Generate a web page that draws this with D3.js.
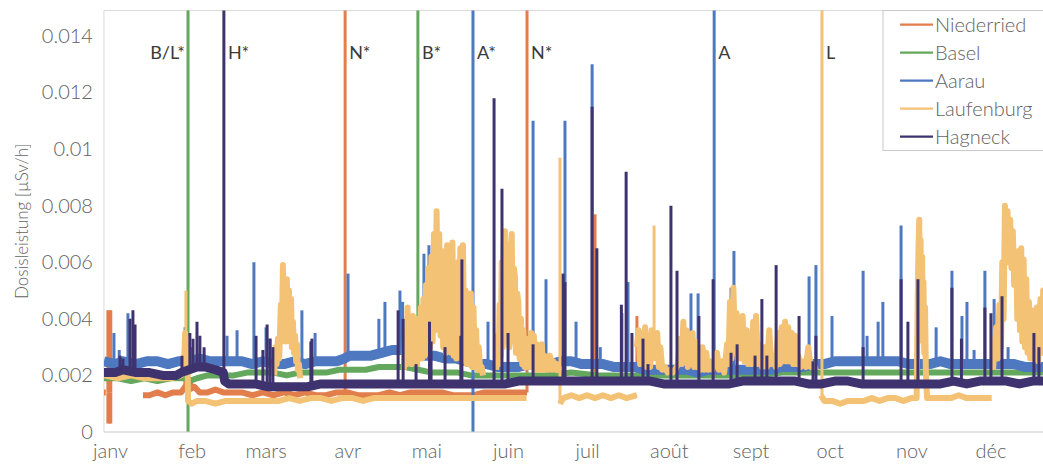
<!DOCTYPE html>
<html>
<head>
<meta charset="utf-8">
<script src="https://cdn.jsdelivr.net/npm/d3@7"></script>
<style>
  body { margin: 0; background: #fff; }
  text { font-family: Lato, "Open Sans", sans-serif; }
</style>
</head>
<body>
<div id="chart"></div>
<script>
// ---- data (day of year, 0 = 1 Jan ; dose rate in µSv/h) ----
var months = ['janv', 'feb', 'mars', 'avr', 'mai', 'juin', 'juil', 'août', 'sept', 'oct', 'nov', 'déc'];
var monthStarts = [0, 31, 59, 90, 120, 151, 181, 212, 243, 273, 304, 334];
var yTicks = [0, 0.002, 0.004, 0.006, 0.008, 0.01, 0.012, 0.014];

// null = gap in the record
var niederried = [
  [-2.3,0.0014],[-1.6,0.0014], null,
  [12.5,0.0013],[15,0.0013],[18,0.0014],[21,0.0013],[24,0.0014],[27,0.0014],[28.5,0.0016],[30,0.0015],[32,0.0016],
  [34,0.0014],[37,0.0014],[40,0.0015],[43,0.0014],[46,0.0014],[50,0.0014],[54,0.0013],[58,0.0014],[62,0.0013],
  [66,0.0014],[70,0.0013],[74,0.0014],[78,0.0013],[82,0.0013],[86,0.0014],[90,0.0014],[94,0.0013],[98,0.0013],
  [102,0.0013],[106,0.0014],[110,0.0013],[114,0.0014],[118,0.0014],[122,0.0014],[126,0.0014],[130,0.0013],
  [134,0.0013],[138,0.0013],[142,0.0014],[146,0.0014],[150,0.0014],[154,0.0014],[158.2,0.0014], null,
  [180,0.0018],[185,0.0018],[190,0.0018],[195,0.0018],[200,0.0018], null
];
var niederriedSpikes = [[-0.8,0.0043],[-0.8,0.0003],[-0.2,0.0043],[-0.2,0.0003],[0.3,0.0043],[0.3,0.0003],
  [28.4,0.0018],[31,0.0019],[89.2,0.02],[158.2,0.02],[184,0.0077],[199.9,0.0041]];

var basel = [
  [-2.3,0.0019],[3,0.0019],[8,0.0018],[13,0.0019],[18,0.0018],[23,0.0019],[29.4,0.0019],[30,0.0018],[33,0.0019],
  [37,0.0020],[42,0.0020],[47,0.0020],[52,0.0021],[57,0.0021],[62,0.0021],[67,0.0020],[72,0.0021],[77,0.0021],
  [82,0.0021],[87,0.0022],[92,0.0022],[97,0.0022],[102,0.0023],[107,0.0023],[112,0.0023],[117,0.0022],[122,0.0021],
  [127,0.0021],[132,0.0021],[137,0.0020],[145,0.0020],[155,0.0020],[165,0.0020],[175,0.0021],[185,0.0020],
  [195,0.0020],[205,0.0020],[215,0.0020],[225,0.0020],[235,0.0020],[245,0.0020],[255,0.0021],[262,0.0021],
  [270,0.0021],[278,0.0021],[286,0.0021],[294,0.0021],[302,0.0021],[310,0.0021],[318,0.0021],[326,0.0021],
  [334,0.0021],[342,0.0021],[350,0.0021],[356,0.0021]
];
var baselSpikes = [[29.6,0.02],[29.6,0],[116.8,0.02]];

var aarau = [
  [-2.3,0.0025],[2,0.0024],[5,0.0025],[10,0.0024],[14,0.0025],[18,0.0025],[22,0.0024],[26,0.0025],[30,0.0025],
  [34,0.0026],[38,0.0025],[42,0.0025],[46,0.0025],[50,0.0025],[54,0.0024],[58,0.0025],[62,0.0024],[66,0.0024],
  [70,0.0025],[74,0.0024],[78,0.0025],[82,0.0025],[86,0.0025],[89,0.0026],[91,0.0027],[95,0.0027],[99,0.0027],
  [103,0.0028],[107,0.0029],[111,0.0029],[115,0.0028],[119,0.0027],[123,0.0027],[127,0.0026],[131,0.0026],
  [135,0.0025],[139,0.0024],[143,0.0024],[147,0.0023],[151,0.0023],[155,0.0023],[159,0.0024],[163,0.0024],
  [167,0.0024],[171,0.0025],[175,0.0025],[179,0.0024],[183,0.0024],[187,0.0024],[191,0.0023],[195,0.0023],
  [199,0.0023],[203,0.0022],[207,0.0022],[211,0.0022],[215,0.0022],[219,0.0022],[223,0.0021],[227,0.0022],
  [231,0.0022],[235,0.0022],[239,0.0022],[243,0.0022],[247,0.0022],[251,0.0022],[255,0.0023],[259,0.0023],
  [263,0.0023],[267,0.0024],[271,0.0024],[275,0.0025],[279,0.0025],[283,0.0025],[287,0.0025],[291,0.0025],
  [295,0.0025],[299,0.0025],[303,0.0024],[307,0.0024],[311,0.0024],[315,0.0025],[319,0.0024],[323,0.0024],
  [327,0.0024],[331,0.0024],[335,0.0024],[339,0.0024],[343,0.0024],[347,0.0023],[351,0.0023],[356,0.0023]
];
var aarauSpikes = [
  [1.5,0.0035],[3.5,0.0029],[6.8,0.0042],[9,0.0036],[28.5,0.0037],[31,0.0030],[44.4,0.0034],[48.2,0.0036],
  [54.6,0.0060],[59.2,0.0037],[60.7,0.0033],[72.8,0.0043],[77.8,0.0035],[90.3,0.0056],[102,0.0040],[104.3,0.0046],
  [110,0.0050],[111,0.0046],[119.1,0.0063],[121,0.0066],[127.1,0.0033],[137.7,0.02],[137.7,0],[143.4,0.0039],
  [160.5,0.0110],[165.4,0.0054],[172.6,0.0110],[176.8,0.0039],[182.9,0.0130],[186,0.0030],[194.2,0.0042],
  [196.5,0.0053],[220.4,0.0049],[223.1,0.0049],[229.2,0.02],[235.6,0.0051],[236.7,0.0064],[265.2,0.0055],
  [267.8,0.0059],[273.9,0.0041],[285.7,0.0057],[287.2,0.0034],[291.4,0.0039],[293.2,0.0046],[300.1,0.0073],
  [313.4,0.0037],[319.4,0.0057],[323.2,0.0041],[325.1,0.0046],[327.8,0.0029],[331.9,0.0057],[335.4,0.0047],
  [340.7,0.0030]
];

var laufenburg = [
  // Jan–Jun record
  [-2.3,0.0020],[3,0.0019],[8,0.0020],[13,0.0019],[18,0.0019],[23,0.0019],[27,0.0020],[28,0.0022],[28.5,0.0035],
  [29.1,0.0032],[29.4,0.0028],[29.6,0.0011],[31,0.0010],[33,0.0011],[36,0.0011],[40,0.0010],[44,0.0011],[48,0.0011],
  [52,0.0011],[56,0.0011],[60,0.0011],[64,0.0011],[68,0.0012],[72,0.0011],[76,0.0012],[80,0.0012],[84,0.0011],
  [88,0.0012],[92,0.0012],[96,0.0011],[100,0.0012],[104,0.0012],[108,0.0012],[112,0.0012],[116,0.0012],[120,0.0012],
  [124,0.0012],[128,0.0012],[132,0.0012],[136,0.0012],[140,0.0012],[144,0.0012],[148,0.0012],[152,0.0012],
  [156,0.0012],[158,0.0012], null,
  // March rise
  [62.3,0.0020],[62.8,0.0030],[63.2,0.0024],[63.7,0.0033],[64.2,0.0026],[64.8,0.0045],[65.2,0.0032],[65.6,0.0059],
  [66,0.0034],[66.4,0.0053],[66.8,0.0032],[67.1,0.0054],[67.5,0.0034],[67.9,0.0050],[68.3,0.0032],[68.7,0.0047],
  [69,0.0030],[69.4,0.0039],[69.8,0.0028],[70.2,0.0034],[70.6,0.0025],[70.9,0.0031],[71.3,0.0022],[71.7,0.0024],
  [72.1,0.0019], null,
  // May rise
  [111.5,0.0022],[112,0.0036],[112.5,0.0024],[112.9,0.0044],[113.4,0.0026],[113.9,0.0038],[114.4,0.0024],
  [114.9,0.0041],[115.4,0.0025],[115.9,0.0036],[116.4,0.0024],[116.9,0.0040],[117.4,0.0026],[117.9,0.0044],
  [118.4,0.0026],[118.9,0.0047],[119.4,0.0027],[119.9,0.0052],[120.4,0.0028],[120.9,0.0058],[121.4,0.0030],
  [121.9,0.0062],[122.4,0.0032],[122.9,0.0070],[123.4,0.0036],[123.9,0.0078],[124.4,0.0040],[124.9,0.0070],
  [125.4,0.0034],[125.9,0.0064],[126.4,0.0030],[126.9,0.0061],[127.4,0.0028],[127.9,0.0066],[128.4,0.0030],
  [128.9,0.0060],[129.4,0.0028],[129.9,0.0067],[130.4,0.0027],[130.9,0.0056],[131.4,0.0026],[131.9,0.0060],
  [132.4,0.0027],[132.9,0.0065],[133.4,0.0026],[133.9,0.0066],[134.4,0.0025],[134.9,0.0050],[135.4,0.0024],
  [135.9,0.0047],[136.4,0.0024],[136.9,0.0049],[137.4,0.0023],[137.9,0.0044],[138.4,0.0023],[138.9,0.0036],
  [139.4,0.0022],[139.9,0.0030],[140.4,0.0022],[141,0.0023],[141.5,0.0020], null,
  // June rise
  [146.5,0.0022],[147,0.0034],[147.4,0.0024],[147.8,0.0045],[148.2,0.0027],[148.6,0.0060],[149,0.0030],[149.4,0.0066],
  [149.8,0.0071],[150.2,0.0032],[150.6,0.0062],[151.1,0.0066],[151.5,0.0030],[152,0.0064],[152.4,0.0070],
  [152.8,0.0032],[153.2,0.0058],[153.6,0.0055],[154,0.0028],[154.5,0.0049],[154.9,0.0046],[155.4,0.0026],
  [155.9,0.0040],[156.4,0.0024],[156.8,0.0036],[157.3,0.0023],[157.8,0.0032],[158.3,0.0023],[158.8,0.0033],
  [159.3,0.0023],[159.8,0.0035],[160.3,0.0023],[160.8,0.0034],[161.3,0.0022],[161.8,0.0031],[162.3,0.0022],
  [162.8,0.0029],[163.3,0.0022],[163.8,0.0031],[164.3,0.0022],[164.8,0.0027],[165.3,0.0022],[165.8,0.0026],
  [166.4,0.0022],[166.9,0.0027],[167.5,0.0022],[168.2,0.0025],[169,0.0022],[169.6,0.0024],[170.3,0.0021], null,
  // July record
  [170.7,0.0010],[172,0.0012],[175,0.0013],[178,0.0012],[181,0.0013],[184,0.0012],[187,0.0013],[190,0.0012],
  [193,0.0013],[196,0.0012],[199.9,0.0013], null,
  // July – September
  [199.9,0.0030],[200.5,0.0036],[201.1,0.0024],[201.7,0.0035],[202.3,0.0024],[203,0.0037],[203.6,0.0023],
  [204.2,0.0034],[204.9,0.0023],[205.5,0.0036],[206.2,0.0026],[207,0.0030],[207.6,0.0035],[208.2,0.0023],
  [208.8,0.0030],[209.5,0.0022],[210.5,0.0023],[211.5,0.0021],[212.5,0.0022],[213.5,0.0021],[214.4,0.0022],
  [215.5,0.0024],[216.3,0.0033],[216.9,0.0024],[217.5,0.0039],[218.1,0.0025],[218.6,0.0036],[219.2,0.0023],
  [219.8,0.0034],[220.4,0.0024],[221,0.0035],[221.6,0.0023],[222.3,0.0032],[222.9,0.0023],[223.5,0.0030],
  [224.2,0.0022],[224.8,0.0030],[225.5,0.0022],[226.2,0.0028],[226.9,0.0022],[227.6,0.0025],[228.5,0.0022],
  [229.5,0.0026],[230.3,0.0028],[231,0.0022],[232,0.0025],[233,0.0021],[234.1,0.0031],[234.6,0.0024],
  [235.2,0.0046],[235.8,0.0026],[236.5,0.0051],[237.1,0.0028],[237.7,0.0042],[238.3,0.0026],[239,0.0039],
  [239.5,0.0026],[240,0.0041],[240.7,0.0025],[241.5,0.0036],[242.1,0.0024],[242.8,0.0033],[243.4,0.0024],
  [244,0.0039],[244.5,0.0025],[245.1,0.0041],[245.8,0.0024],[246.6,0.0031],[247.4,0.0023],[248.5,0.0030],
  [249.2,0.0023],[250.1,0.0036],[250.8,0.0024],[251.6,0.0027],[252.5,0.0023],[253.5,0.0035],[254.1,0.0024],
  [254.8,0.0037],[255.4,0.0025],[256.1,0.0039],[256.7,0.0025],[257.3,0.0037],[257.9,0.0025],[258.6,0.0035],
  [259.2,0.0024],[259.9,0.0034],[260.5,0.0024],[261.1,0.0027],[262,0.0023],[263,0.0025],[264,0.0023],
  [264.9,0.0030],[265.8,0.0023],[266.8,0.0024],[267.8,0.0022], null,
  // October – November record
  [269.7,0.0013],[271,0.0011],[274,0.0011],[277,0.0010],[280,0.0011],[283,0.0011],[286,0.0011],[289,0.0012],
  [292,0.0011],[295,0.0012],[298,0.0012],[301,0.0011],[304,0.0012],[306,0.0012],[306.4,0.0045],[306.7,0.0065],
  [307,0.0075],[307.2,0.0040],[307.5,0.0068],[307.8,0.0036],[308.1,0.0062],[308.4,0.0032],[308.6,0.0053],
  [308.9,0.0028],[309.2,0.0044],[309.5,0.0022],[309.8,0.0015],[310,0.0012],[313,0.0012],[316,0.0012],
  [319,0.0012],[322,0.0013],[325,0.0012],[328,0.0012],[331,0.0012],[334.5,0.0012], null,
  // December
  [335,0.0022],[335.6,0.0030],[336.2,0.0037],[336.8,0.0026],[337.4,0.0045],[338,0.0030],[338.5,0.0060],[339,0.0040],
  [339.5,0.0080],[340,0.0060],[340.5,0.0078],[341,0.0060],[341.5,0.0075],[342,0.0058],[342.5,0.0071],[343,0.0052],
  [343.4,0.0053],[343.8,0.0062],[344.2,0.0040],[344.7,0.0064],[345.2,0.0036],[345.7,0.0065],[346.1,0.0032],
  [346.6,0.0061],[347.1,0.0030],[347.6,0.0054],[348.1,0.0028],[348.6,0.0046],[349.1,0.0026],[349.6,0.0043],
  [350.1,0.0026],[350.6,0.0042],[351.1,0.0027],[351.6,0.0044],[352.1,0.0025],[352.6,0.0040],[353,0.0047],
  [353.5,0.0028],[354,0.0050],[354.5,0.0030],[355,0.0045]
];
var laufenburgSpikes = [[28.8,0.0050],[170.7,0.0097],[206.4,0.0073],[270.1,0.02]];

var hagneck = [
  [-2.3,0.0021],[2,0.0021],[5,0.0022],[10,0.0021],[15,0.0021],[20,0.0020],[25,0.0020],[27,0.0021],[30,0.0022],
  [33,0.0023],[36,0.0023],[40,0.0022],[43,0.0021],[43.5,0.0018],[45,0.0017],[50,0.0017],[55,0.0017],[60,0.0016],
  [65,0.0016],[70,0.0016],[75,0.0016],[80,0.0017],[85,0.0017],[90,0.0017],[95,0.0017],[100,0.0017],[105,0.0017],
  [110,0.0017],[115,0.0017],[120,0.0017],[125,0.0017],[130,0.0017],[135,0.0017],[140,0.0017],[145,0.0017],
  [150,0.0017],[155,0.0018],[160,0.0018],[165,0.0018],[170,0.0018],[175,0.0018],[180,0.0018],[185,0.0018],
  [190,0.0018],[195,0.0018],[200,0.0018],[205,0.0018],[210,0.0017],[215,0.0017],[220,0.0017],[225,0.0017],
  [230,0.0017],[235,0.0017],[240,0.0018],[245,0.0018],[250,0.0018],[255,0.0018],[260,0.0018],[265,0.0017],
  [270,0.0017],[275,0.0018],[280,0.0018],[285,0.0017],[290,0.0017],[295,0.0017],[300,0.0017],[305,0.0017],
  [310,0.0017],[315,0.0017],[320,0.0018],[325,0.0017],[330,0.0018],[335,0.0018],[340,0.0018],[345,0.0017],
  [350,0.0018],[356,0.0018]
];
var hagneckSpikes = [
  [3.8,0.0027],[4.9,0.0026],[7.6,0.0040],[8.7,0.0043],[9.5,0.0038],[27.3,0.0027],[30.3,0.0035],[31.5,0.0033],
  [33,0.0039],[34.1,0.0034],[35.7,0.0030],[43.2,0.02],[55.4,0.0034],[58,0.0029],[59.6,0.0038],[60.7,0.0033],
  [61.8,0.0030],[76.2,0.0032],[76.6,0.0033],[109.3,0.0043],[111.2,0.0040],[116.1,0.0024],[121.2,0.0039],
  [121.8,0.0032],[127.1,0.0030],[133.1,0.0034],[133.5,0.0061],[145.7,0.0118],[148.7,0.0086],[151,0.0035],
  [160.5,0.0031],[171.9,0.0056],[172.6,0.0053],[182.9,0.0115],[184.7,0.0065],[194,0.0045],[195.8,0.0092],
  [198,0.0035],[202.2,0.0033],[204.1,0.0024],[212.8,0.0080],[215.1,0.0057],[223.4,0.0041],[228.8,0.0054],
  [235.6,0.0028],[237.9,0.0031],[244.7,0.0027],[247.3,0.0047],[249.2,0.0027],[252.7,0.0059],[261.4,0.0041],
  [266.7,0.0025],[267.8,0.0034],[285.7,0.0030],[300.1,0.0054],[302.7,0.0039],[306.5,0.0054],[319.4,0.0051],
  [323,0.0033],[331.9,0.0044],[334.2,0.0042],[338.4,0.0048],[350.5,0.0035],[352.4,0.0030]
];

var events = [[29.6,'B/L*','end'],[43.2,'H*','start'],[89.2,'N*','start'],[116.8,'B*','start'],
  [137.7,'A*','start'],[158.2,'N*','start'],[229.2,'A','start'],[270.1,'L','start']];

// ---- drawing ----
var W = 1043, H = 464;
var x = d3.scaleLinear().domain([0, 365]).range([110, 110 + 365 * 2.636]);
var y = d3.scaleLinear().domain([0, 0.014]).range([432, 36]);
var plotLeft = x(-2.3), plotTop = y(0.0149), plotBottom = y(0);
var labelColor = '#626262';

var series = [
  {name: 'Niederried', data: niederried, spikes: niederriedSpikes, color: '#E27D4C', width: 6},
  {name: 'Basel', data: basel, spikes: baselSpikes, color: '#63A85D', width: 6},
  {name: 'Aarau', data: aarau, spikes: aarauSpikes, color: '#4E78C0', width: 10},
  {name: 'Laufenburg', data: laufenburg, spikes: laufenburgSpikes, color: '#F3C274', width: 6},
  {name: 'Hagneck', data: hagneck, spikes: hagneckSpikes, color: '#3E336E', width: 9}
];

var svg = d3.select('#chart').append('svg').attr('width', W).attr('height', H);

svg.append('clipPath').attr('id', 'plot')
  .append('rect').attr('x', plotLeft).attr('y', plotTop)
  .attr('width', W - plotLeft).attr('height', plotBottom - plotTop);

// plot frame
svg.append('line').attr('x1', plotLeft).attr('x2', W).attr('y1', plotTop).attr('y2', plotTop)
  .attr('stroke', '#d9d9d9');
svg.append('line').attr('x1', plotLeft).attr('x2', plotLeft).attr('y1', plotTop).attr('y2', plotBottom)
  .attr('stroke', '#d9d9d9');

var line = d3.line()
  .defined(function(d) { return d != null; })
  .x(function(d) { return x(d[0]); })
  .y(function(d) { return y(d[1]); });

function footOf(data, day) {
  var best = null;
  data.forEach(function(p) {
    if (p && (best === null || Math.abs(p[0] - day) < Math.abs(best[0] - day))) best = p;
  });
  return best[1];
}

var plot = svg.append('g').attr('clip-path', 'url(#plot)');
series.forEach(function(s) {
  var g = plot.append('g');
  g.append('path').datum(s.data)
    .attr('d', line)
    .attr('fill', 'none')
    .attr('stroke', s.color)
    .attr('stroke-width', s.width)
    .attr('stroke-linejoin', 'round');
  g.selectAll('line').data(s.spikes).enter().append('line')
    .attr('x1', function(d) { return x(d[0]); })
    .attr('x2', function(d) { return x(d[0]); })
    .attr('y1', function(d) { return y(footOf(s.data, d[0])); })
    .attr('y2', function(d) { return y(d[1]); })
    .attr('stroke', s.color)
    .attr('stroke-width', 3);
});

// event labels
svg.selectAll('.ev').data(events).enter().append('text')
  .attr('class', 'ev')
  .attr('x', function(d) { return x(d[0]) + (d[2] == 'end' ? -3 : 4); })
  .attr('y', 59)
  .attr('text-anchor', function(d) { return d[2]; })
  .attr('font-size', 18)
  .attr('fill', '#3a3a3a')
  .text(function(d) { return d[1]; });

// x axis
svg.append('line').attr('x1', plotLeft).attr('x2', W).attr('y1', plotBottom).attr('y2', plotBottom)
  .attr('stroke', '#c8c8c8').attr('stroke-width', 1.2);
var xAxis = svg.append('g').attr('transform', 'translate(0,' + plotBottom + ')')
  .call(d3.axisBottom(x).tickValues(monthStarts)
    .tickFormat(function(d, i) { return months[i]; })
    .tickSize(0).tickPadding(12));
xAxis.select('.domain').remove();
xAxis.selectAll('text').attr('font-size', 20).attr('fill', labelColor)
  .style('font-family', 'Lato, sans-serif').style('font-weight', 300);

// y axis
var yAxis = svg.append('g').attr('transform', 'translate(' + plotLeft + ',0)')
  .call(d3.axisLeft(y).tickValues(yTicks)
    .tickFormat(function(d) { return String(+d.toFixed(3)); })
    .tickSize(0).tickPadding(11));
yAxis.select('.domain').remove();
yAxis.selectAll('text').attr('font-size', 20).attr('fill', labelColor)
  .style('font-family', 'Lato, sans-serif').style('font-weight', 300);

svg.append('text')
  .attr('transform', 'translate(22,' + ((plotTop + plotBottom) / 2) + ') rotate(-90)')
  .attr('text-anchor', 'middle')
  .attr('dy', '0.35em')
  .attr('font-size', 17)
  .attr('font-weight', 300)
  .attr('fill', labelColor)
  .text('Dosisleistung [µSv/h]');

// legend
var legend = svg.append('g').attr('transform', 'translate(883,' + plotTop + ')');
legend.append('rect').attr('x', 0).attr('y', 0).attr('width', 170).attr('height', 140)
  .attr('fill', '#fff').attr('stroke', '#c8c8c8');
var item = legend.selectAll('.item').data(series).enter().append('g')
  .attr('transform', function(d, i) { return 'translate(0,' + (14 + i * 28) + ')'; });
item.append('line').attr('x1', 17).attr('x2', 50).attr('y1', 0).attr('y2', 0)
  .attr('stroke', function(d) { return d.color; }).attr('stroke-width', 2.2);
item.append('text').attr('x', 52).attr('dy', '0.35em')
  .attr('font-size', 20).attr('font-weight', 300).attr('fill', labelColor)
  .text(function(d) { return d.name; });
</script>
</body>
</html>
